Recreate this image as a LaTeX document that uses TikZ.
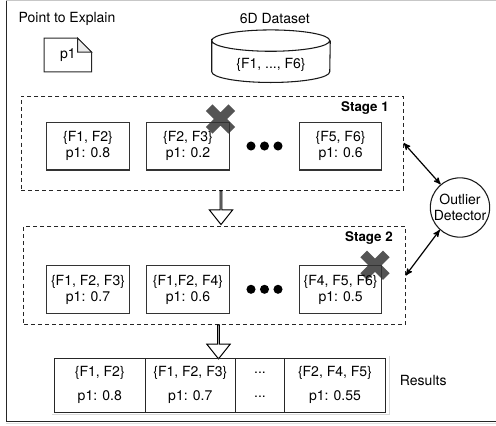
\documentclass[tikz,border=0pt]{standalone}
\usepackage{fontspec}
\setmainfont{TeX Gyre Heros}
\usetikzlibrary{shapes,arrows,positioning}

\begin{document}
\begin{tikzpicture}[x=0.75pt, y=-0.75pt, >=stealth', node distance=75pt, font=\fontsize{10.5}{12}\selectfont]
	\tikzstyle{stage}=[draw=black!85, dashed, dash pattern=on 3pt off 2.3pt, line width=0.75pt, minimum height=70.5pt]
	\tikzstyle{subset}=[draw=black!80, line width=0.8pt, minimum width=62pt, minimum height=35.5pt, inner sep=0pt, align=center]
	\tikzstyle{cell}=[draw=black!85, line width=0.8pt, minimum height=40.3pt, inner sep=0pt, outer sep=0pt, align=center]
	\tikzstyle{dot}=[circle, fill=black, inner sep=0pt, minimum size=6.8pt]
	\tikzstyle{hollow}=[single arrow, draw=black, fill=white, line width=0.75pt, rotate=-90, inner sep=0pt, minimum height=25.5pt, minimum width=17.5pt, single arrow head extend=4.6pt, single arrow tip angle=77, single arrow head indent=0pt]
	\tikzstyle{rejected}=[cross out, draw=black!67, line width=7pt, minimum size=17pt, inner sep=0pt, outer sep=0pt]
	\tikzstyle{stagename}=[anchor=east, inner sep=0pt, font=\fontsize{10}{12}\selectfont\bfseries]
	\useasboundingbox (0,0) rectangle (496,425);
	\draw[black!22, line width=1.2pt] (6,0.6) -- (496,0.6);
	\draw[black!12, line width=1pt] (6,423.4) -- (496,423.4);
	\draw[black!85, line width=1.1pt] (6.5,0.6) -- (6.5,421.5) -- (496,421.5);

	\node (EXPLAIN) at (67,19) {Point to Explain};
	\node (DATASET) at (274.7,19) {6D Dataset};
	\node[minimum width=35.2pt, minimum height=25pt, inner sep=0pt] (P1) at (67.8,55) {p1};
	\draw[black!85, line width=0.75pt] (P1.north west) -- ([xshift=-10.5pt]P1.north east) -- ([yshift=-10.5pt]P1.north east) -- (P1.south east) -- (P1.south west) -- cycle;
	\draw[black!85, fill=black!8, line width=0.75pt] ([xshift=-10.5pt]P1.north east) -- ([xshift=-10.5pt,yshift=-10.5pt]P1.north east) -- ([yshift=-10.5pt]P1.north east) -- cycle;
	\node[minimum width=88.5pt, minimum height=23pt, inner sep=0pt] (STORE) at (271,56.2) {};
	\draw[black!90, line width=0.8pt] (STORE.north west) arc[start angle=180, end angle=0, x radius=44.25pt, y radius=8pt] arc[start angle=0, end angle=-180, x radius=44.25pt, y radius=8pt] -- (STORE.south west) arc[start angle=180, end angle=360, x radius=44.25pt, y radius=8pt] -- (STORE.north east);
	\node (ALL) at (271,65) {\{F1, ..., F6\}};

	\node[stage, minimum width=286.5pt] (STAGEONE) at (212.2,143) {};
	\node[stage, minimum width=286pt, minimum height=74pt] (STAGETWO) at (214.5,275.5) {};
	\node[stagename] (LABELONE) at (389,108) {Stage 1};
	\node[stagename] (LABELTWO) at (393,238) {Stage 2};

	\node[rejected] (CROSSA) at (220.5,119) {};
	\node[rejected] (CROSSB) at (375,265.3) {};

	\node[subset] (AA) at (88,146.3) {\{F1, F2\}\\p1: 0.8};
	\node[subset] (AB) [right of=AA] {\{F2, F3\}\\p1: 0.2};
	\node[subset] (AC) at (340.6,146.3) {\{F5, F6\}\\p1: 0.6};
	\node[subset] (BA) at (88,289.5) {\{F1, F2, F3\}\\p1: 0.7};
	\node[subset] (BB) [right of=BA] {\{F1,F2, F4\}\\p1: 0.6};
	\node[subset] (BC) at (340.6,289.5) {\{F4, F5, F6\}\\p1: 0.5};

	\foreach \dotx in {251,264.5,278} {
		\node[dot] (DOTA\dotx) at (\dotx,146) {};
		\node[dot] (DOTB\dotx) at (\dotx,289.3) {};
	}

	\node[hollow] (FLOWA) at (221,207) {};
	\node[hollow] (FLOWB) at (218.5,341.3) {};

	\node[circle, draw=black!90, line width=0.8pt, minimum size=44.5pt, inner sep=0pt, align=center] (DETECT) at (460,207.5) {Outlier\\Detector};
	\path[<->, line width=0.9pt] (STAGEONE.east) edge (DETECT.130);
	\path[<->, line width=0.9pt] (STAGETWO.east) edge (DETECT.228);

	\node[cell, minimum width=68.25pt] (RESA) at (99.8,385.2) {\{F1, F2\}\\[6pt]p1: 0.8};
	\node[cell, minimum width=67.5pt, right=0pt of RESA] (RESB) {\{F1, F2, F3\}\\[6pt]p1: 0.7};
	\node[cell, minimum width=37pt, right=0pt of RESB] (RESC) {...\\[6pt]...};
	\node[cell, minimum width=75.5pt, right=0pt of RESC] (RESD) {\{F2, F4, F5\}\\[6pt]p1: 0.55};
	\draw[black!15, line width=0.75pt] ([xshift=2.8pt,yshift=2pt]RESD.north east) -- ([xshift=2.8pt,yshift=-1.8pt]RESD.south east) -- ([xshift=-2pt,yshift=-1.8pt]RESA.south west);
	\node[anchor=west, inner sep=0pt] (RESULTS) at (399.7,380) {Results};
\end{tikzpicture}
\end{document}
